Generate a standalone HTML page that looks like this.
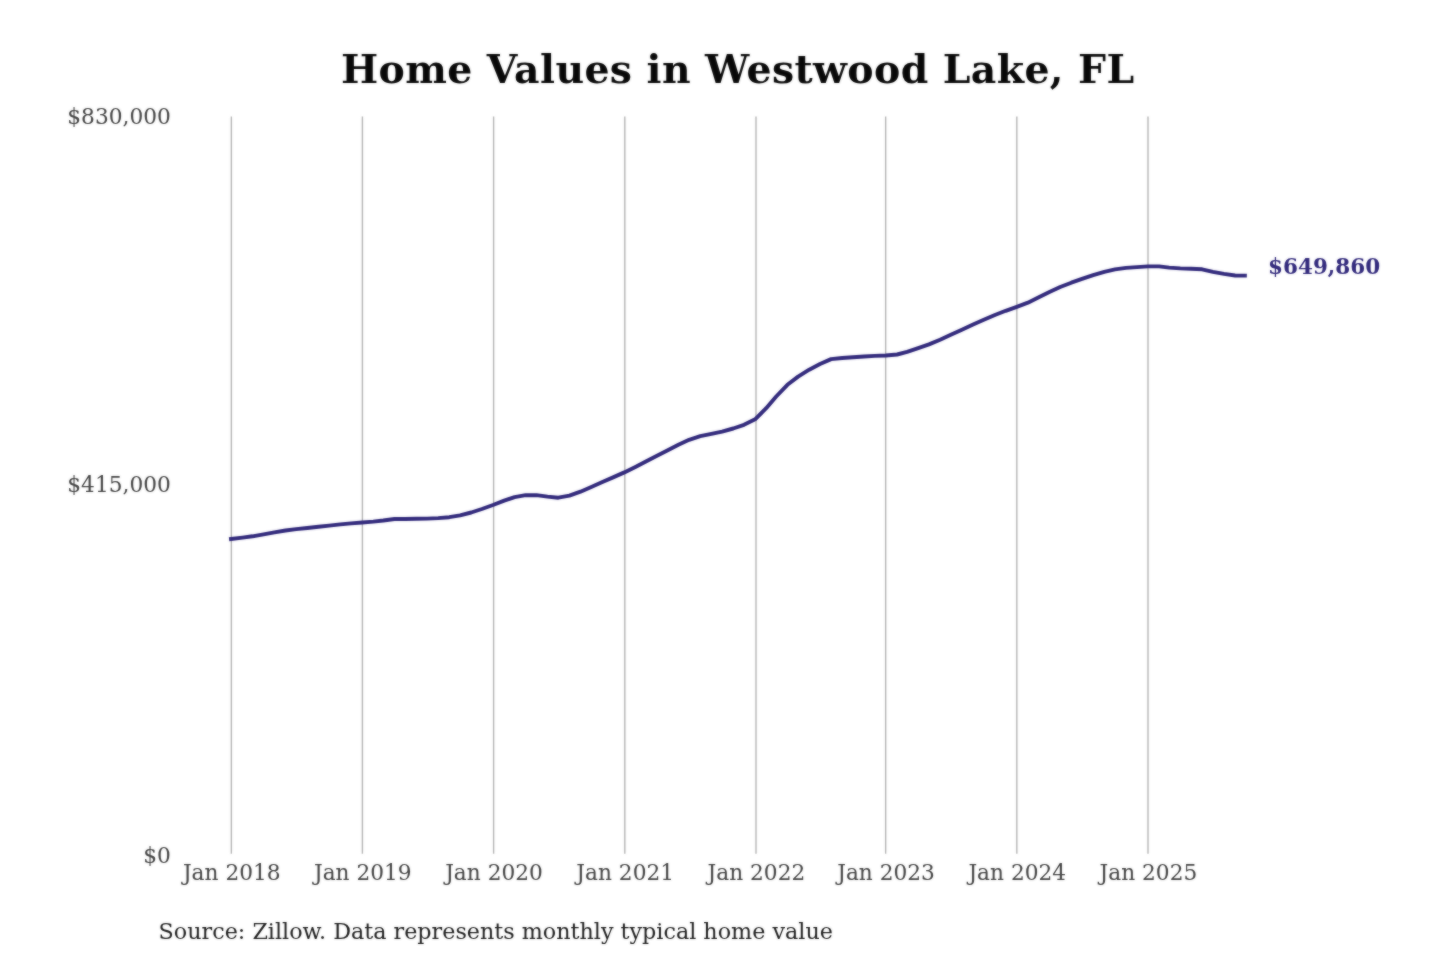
<!DOCTYPE html>
<html lang="en">
<head>
<meta charset="utf-8">
<title>Home Values in Westwood Lake, FL</title>
<style>
html,body{margin:0;padding:0;background:#ffffff;}
body{width:1440px;height:960px;overflow:hidden;}
svg{display:block;font-family:"DejaVu Serif","Liberation Serif",serif;}
</style>
</head>
<body>
<svg width="1440" height="960" viewBox="0 0 1440 960">
<defs>
<filter id="soft" x="0" y="0" width="1440" height="960" filterUnits="userSpaceOnUse" color-interpolation-filters="sRGB">
<feGaussianBlur in="SourceGraphic" stdDeviation="1" result="b"/>
<feComposite in="SourceGraphic" in2="b" operator="arithmetic" k1="0" k2="0.5" k3="0.5" k4="0"/>
</filter>
</defs>
<rect x="0" y="0" width="1440" height="960" fill="#ffffff"/>
<g filter="url(#soft)">
<g stroke="#b0b0b0" stroke-width="1.35">
<line x1="231.35" y1="116.60" x2="231.35" y2="853.80"/>
<line x1="362.40" y1="116.60" x2="362.40" y2="853.80"/>
<line x1="493.60" y1="116.60" x2="493.60" y2="853.80"/>
<line x1="624.80" y1="116.60" x2="624.80" y2="853.80"/>
<line x1="756.00" y1="116.60" x2="756.00" y2="853.80"/>
<line x1="885.65" y1="116.60" x2="885.65" y2="853.80"/>
<line x1="1016.85" y1="116.60" x2="1016.85" y2="853.80"/>
<line x1="1148.00" y1="116.60" x2="1148.00" y2="853.80"/>
</g>
<path d="M231.0 539.0 L242.5 537.6 L252.5 536.3 L263.6 534.4 L274.4 532.4 L285.5 530.5 L296.2 529.1 L307.3 528.0 L318.5 526.7 L329.2 525.6 L340.3 524.4 L351.1 523.4 L362.2 522.5 L373.3 521.6 L383.3 520.5 L394.5 519.0 L405.2 519.0 L416.3 518.8 L427.1 518.6 L438.2 518.1 L449.3 517.2 L460.1 515.4 L471.2 512.5 L481.9 509.0 L493.0 505.0 L504.2 500.6 L514.6 497.1 L525.7 495.2 L536.4 495.1 L547.5 496.6 L558.3 497.7 L569.4 495.6 L580.5 491.7 L591.3 487.0 L602.4 482.0 L613.1 477.4 L624.3 472.4 L635.4 466.9 L645.4 461.7 L656.5 456.1 L667.3 450.6 L678.4 444.8 L689.1 439.8 L700.3 436.2 L711.4 433.8 L722.1 431.6 L733.2 428.5 L744.0 424.8 L755.1 419.3 L766.2 408.2 L776.2 396.5 L787.4 384.8 L798.1 376.6 L809.2 369.7 L820.0 364.0 L831.1 359.1 L842.2 358.0 L853.0 357.3 L864.1 356.5 L874.8 355.9 L885.9 355.5 L897.1 354.5 L907.1 351.9 L918.2 348.2 L929.0 344.4 L940.1 339.8 L950.8 334.8 L961.9 329.7 L973.1 324.6 L983.8 319.8 L994.9 315.0 L1005.7 310.8 L1016.8 306.8 L1027.9 302.7 L1038.3 297.6 L1049.4 292.0 L1060.2 287.0 L1071.3 282.7 L1082.0 278.9 L1093.2 275.1 L1104.3 271.8 L1115.0 269.4 L1126.1 267.9 L1136.9 267.1 L1148.0 266.4 L1159.1 266.4 L1169.2 267.6 L1180.3 268.4 L1191.0 268.8 L1202.1 269.3 L1212.9 271.9 L1224.0 273.9 L1235.1 275.5 L1244.9 275.6" fill="none" stroke="#30287b" stroke-width="3.90" stroke-linecap="square" stroke-linejoin="round"/>
<text x="737.70" y="83.00" text-anchor="middle" font-size="39.40" font-weight="bold" letter-spacing="0.39" fill="#080808">Home Values in Westwood Lake, FL</text>
<g font-size="21.70" fill="#404040">
<text x="170.80" y="124.00" text-anchor="end">$830,000</text>
<text x="170.80" y="491.60" text-anchor="end">$415,000</text>
<text x="170.80" y="863.40" text-anchor="end">$0</text>
<text x="231.75" y="879.60" text-anchor="middle">Jan 2018</text>
<text x="362.80" y="879.60" text-anchor="middle">Jan 2019</text>
<text x="494.00" y="879.60" text-anchor="middle">Jan 2020</text>
<text x="625.20" y="879.60" text-anchor="middle">Jan 2021</text>
<text x="756.40" y="879.60" text-anchor="middle">Jan 2022</text>
<text x="886.05" y="879.60" text-anchor="middle">Jan 2023</text>
<text x="1017.25" y="879.60" text-anchor="middle">Jan 2024</text>
<text x="1148.40" y="879.60" text-anchor="middle">Jan 2025</text>
</g>
<text x="1268.00" y="274.20" font-size="21.50" font-weight="bold" fill="#30287b">$649,860</text>
<text x="158.60" y="938.80" font-size="22.25" fill="#1a1a1a">Source: Zillow. Data represents monthly typical home value</text>
</g>
</svg>
</body>
</html>
